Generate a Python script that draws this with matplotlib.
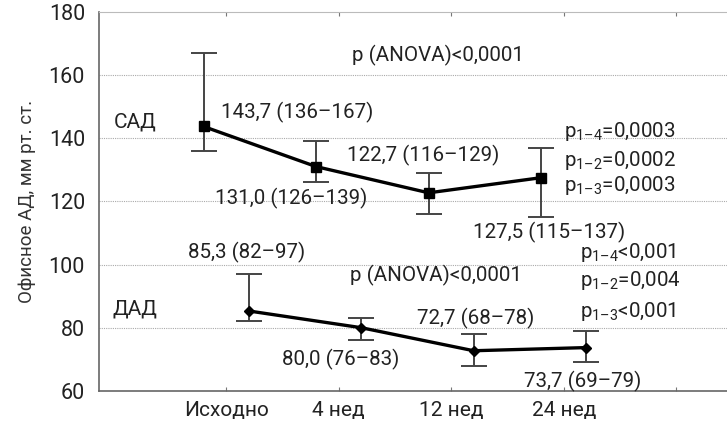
import matplotlib
matplotlib.use("Agg")
import matplotlib.pyplot as plt
import numpy as np

plt.rcParams["font.family"] = ["Roboto", "DejaVu Sans"]
plt.rcParams["mathtext.fontset"] = "custom"
plt.rcParams["mathtext.rm"] = "Roboto"
plt.rcParams["mathtext.it"] = "Roboto"

# ── данные: медиана (мин–макс) ──
periods = ["Исходно", "4 нед", "12 нед", "24 нед"]
sad = [143.7, 131.0, 122.7, 127.5]
sad_lo = [136, 126, 116, 115]
sad_hi = [167, 139, 129, 137]
dad = [85.3, 80.0, 72.7, 73.7]
dad_lo = [82, 76, 68, 69]
dad_hi = [97, 83, 78, 79]

sad_p = ["p$_\\mathregular{1–4}$=0,0003", "p$_\\mathregular{1–2}$=0,0002", "p$_\\mathregular{1–3}$=0,0003"]
dad_p = ["p$_\\mathregular{1–4}$<0,001", "p$_\\mathregular{1–2}$=0,004", "p$_\\mathregular{1–3}$<0,001"]
anova = "p (ANOVA)<0,0001"

TXT = "#222222"
FS = 14.8
x = np.arange(len(periods))


def fmt(v, lo, hi):
    return f"{v:.1f}".replace(".", ",") + f" ({lo}–{hi})"


fig = plt.figure(figsize=(7.27, 4.23), dpi=100)
ax = fig.add_axes([0.136, 0.076, 0.864, 0.896])

ax.errorbar(x - 0.2, sad, yerr=[np.subtract(sad, sad_lo), np.subtract(sad_hi, sad)],
            fmt="none", ecolor="#444444", elinewidth=1.4, capsize=9.5, capthick=1.4, zorder=2)
ax.plot(x - 0.2, sad, color="black", lw=2.4, marker="s", ms=7, zorder=3)

ax.errorbar(x + 0.2, dad, yerr=[np.subtract(dad, dad_lo), np.subtract(dad_hi, dad)],
            fmt="none", ecolor="#444444", elinewidth=1.4, capsize=9.5, capthick=1.4, zorder=2)
ax.plot(x + 0.2, dad, color="black", lw=2.4, marker="D", ms=5.5, zorder=3)

# подписи значений (позиции подобраны вручную)
sad_pos = [(-0.044, 148.1), (-0.098, 121.0), (1.075, 134.4), (2.19, 110.1)]
dad_pos = [(-0.338, 103.9), (0.50, 69.9), (1.70, 83.0), (2.65, 63.1)]
for (tx, ty), v, lo, hi in zip(sad_pos, sad, sad_lo, sad_hi):
    ax.text(tx, ty, fmt(v, lo, hi), ha="left", va="center", fontsize=FS, color=TXT)
for (tx, ty), v, lo, hi in zip(dad_pos, dad, dad_lo, dad_hi):
    ax.text(tx, ty, fmt(v, lo, hi), ha="left", va="center", fontsize=FS, color=TXT)

for ty, s in zip([142.2, 132.9, 125.1], sad_p):
    ax.text(3.0, ty, s, ha="left", va="center", fontsize=FS, color=TXT)
for ty, s in zip([103.9, 94.9, 85.2], dad_p):
    ax.text(3.14, ty, s, ha="left", va="center", fontsize=FS, color=TXT)

ax.text(1.12, 166.2, anova, ha="left", va="center", fontsize=FS, color=TXT)
ax.text(1.10, 96.4, anova, ha="left", va="center", fontsize=FS, color=TXT)
ax.text(-0.81, 145.0, "САД", ha="center", va="center", fontsize=15, color=TXT)
ax.text(-0.81, 85.8, "ДАД", ha="center", va="center", fontsize=15, color=TXT)

ax.set_xlim(-1.13, 4.45)
ax.set_ylim(60, 180)
ax.set_xticks(np.arange(len(periods) + 1))
ax.set_xticklabels(periods + [""], fontsize=15, color=TXT)
ax.set_yticks(np.arange(60, 181, 20))
ax.tick_params(axis="y", length=0, pad=10, labelsize=15.5, labelcolor=TXT)
ax.tick_params(axis="x", direction="in", length=3, color="#777777", top=True, pad=7)
ax.set_ylabel("Офисное АД, мм рт. ст.", fontsize=13.5, color="#333333", labelpad=9)

for yv in range(80, 180, 20):
    ax.axhline(yv, color="#aaaaaa", lw=0.8, ls=(0, (1, 1)), zorder=0)

ax.spines["right"].set_visible(False)
ax.spines["top"].set_color("#bbbbbb")
ax.spines["left"].set_color("#666666")
ax.spines["bottom"].set_color("#666666")
ax.spines["left"].set_linewidth(1.2)
ax.spines["bottom"].set_linewidth(1.2)

fig.savefig("out.png", dpi=100)
